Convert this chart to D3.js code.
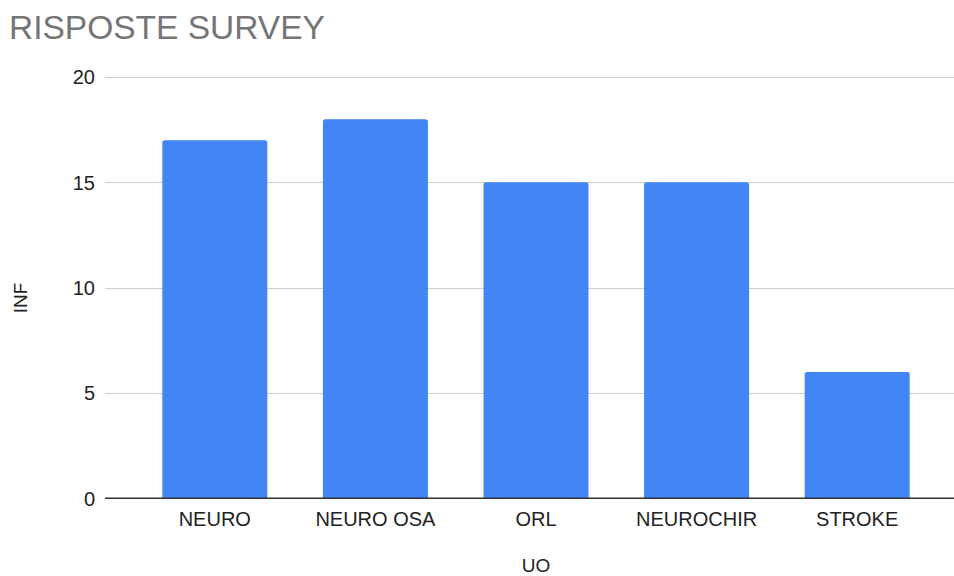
<!DOCTYPE html>
<html>
<head>
<meta charset="utf-8">
<script src="https://cdn.jsdelivr.net/npm/d3@7"></script>
<style>
  html, body { margin: 0; padding: 0; background: #fff; }
  svg { display: block; font-family: "Liberation Sans", Arial, sans-serif; }
</style>
</head>
<body>
<svg id="chart" width="954" height="576"></svg>
<script>
// Survey responses per unit
const categories = ["NEURO", "NEURO OSA", "ORL", "NEUROCHIR", "STROKE"];
const values = [17, 18, 15, 15, 6];
const yTicks = [0, 5, 10, 15, 20];

const svg = d3.select("#chart");

const gridLeft = 105, gridRight = 954;
const x = d3.scaleBand()
  .domain(categories)
  .range([134.5, 937.5])
  .paddingInner(0.346)
  .paddingOuter(0.173);

const y = d3.scaleLinear().domain([0, 20]).range([498.3, 77]);

// Title
svg.append("text")
  .attr("x", 9)
  .attr("y", 38.5)
  .attr("fill", "#757575")
  .attr("font-size", 33.5)
  .text("RISPOSTE SURVEY");

// Horizontal gridlines
svg.append("g")
  .selectAll("line")
  .data(yTicks.filter(d => d !== 0))
  .join("line")
  .attr("x1", gridLeft)
  .attr("x2", gridRight)
  .attr("y1", d => Math.round(y(d)) + 0.5)
  .attr("y2", d => Math.round(y(d)) + 0.5)
  .attr("stroke", "#cccccc")
  .attr("stroke-width", 1);

// Y tick labels
svg.append("g")
  .selectAll("text")
  .data(yTicks)
  .join("text")
  .attr("x", 95)
  .attr("y", d => y(d))
  .attr("dy", "0.36em")
  .attr("text-anchor", "end")
  .attr("fill", "#222")
  .attr("font-size", 20)
  .text(d => d);

// Bars with slightly rounded tops
const r = 2.5;
svg.append("g")
  .selectAll("path")
  .data(categories.map((c, i) => ({ c, v: values[i] })))
  .join("path")
  .attr("fill", "#4285f4")
  .attr("d", d => {
    const x0 = x(d.c), x1 = x0 + x.bandwidth();
    const yt = y(d.v), yb = y(0);
    return `M${x0},${yb} L${x0},${yt + r} Q${x0},${yt} ${x0 + r},${yt}
            L${x1 - r},${yt} Q${x1},${yt} ${x1},${yt + r} L${x1},${yb} Z`;
  });

// Baseline
svg.append("line")
  .attr("x1", gridLeft)
  .attr("x2", gridRight)
  .attr("y1", y(0))
  .attr("y2", y(0))
  .attr("stroke", "#333")
  .attr("stroke-width", 1.5);

// X category labels
svg.append("g")
  .selectAll("text")
  .data(categories)
  .join("text")
  .attr("x", d => x(d) + x.bandwidth() / 2)
  .attr("y", 526)
  .attr("text-anchor", "middle")
  .attr("fill", "#222")
  .attr("font-size", 20)
  .text(d => d);

// Axis titles
svg.append("text")
  .attr("x", 536)
  .attr("y", 572)
  .attr("text-anchor", "middle")
  .attr("fill", "#222")
  .attr("font-size", 19)
  .text("UO");

svg.append("text")
  .attr("transform", "translate(26.5,298) rotate(-90)")
  .attr("text-anchor", "middle")
  .attr("fill", "#222")
  .attr("font-size", 19)
  .text("INF");
</script>
</body>
</html>
